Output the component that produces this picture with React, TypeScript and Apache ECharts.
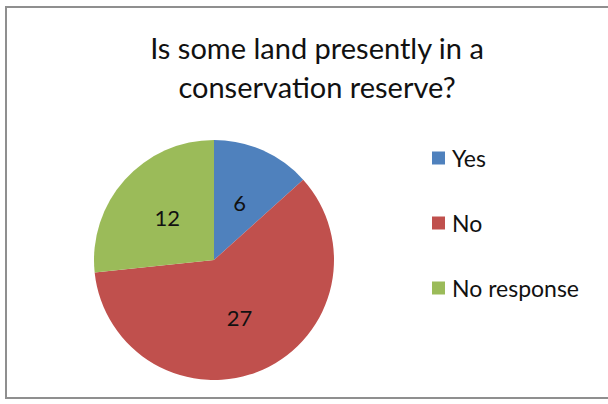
import React, { useEffect, useRef } from "react";
import * as echarts from "echarts";

const titleText = "Is some land presently in a\nconservation reserve?";
const categories = ["Yes", "No", "No response"];
const values = [6, 27, 12];
const colors = ["#4F81BD", "#C0504D", "#9BBB59"];

export default function App() {
  const ref = useRef<HTMLDivElement>(null);
  useEffect(() => {
    const chart = echarts.init(ref.current!, null, { renderer: "svg" });
    chart.setOption({
      animation: false,
      backgroundColor: "#ffffff",
      title: {
        text: titleText,
        left: 312,
        top: 23,
        textAlign: "center",
        textStyle: {
          fontFamily: "Lato",
          fontSize: 29,
          fontWeight: "normal",
          color: "#111",
          lineHeight: 39,
        },
      },
      legend: {
        orient: "vertical",
        left: 427,
        top: 141,
        itemGap: 41,
        itemWidth: 13,
        itemHeight: 13,
        icon: "rect",
        textStyle: { fontFamily: "Lato", fontSize: 23, lineHeight: 24, color: "#111", padding: [0, 0, 0, 2] },
        data: categories,
      },
      graphic: [
        {
          type: "rect",
          shape: { x: 6, y: 7, width: 620, height: 391 },
          style: { fill: "none", stroke: "#8f8f8f", lineWidth: 2 },
          silent: true,
        },
      ],
      series: [
        {
          type: "pie",
          center: [214, 260],
          radius: 120,
          startAngle: 90,
          clockwise: true,
          data: categories.map((c, i) => ({ name: c, value: values[i], itemStyle: { color: colors[i] } })),
          label: {
            show: true,
            position: "inner",
            formatter: "{c}",
            fontFamily: "Lato",
            fontSize: 22,
            color: "#111",
          },
          labelLine: { show: false },
          emphasis: { disabled: true },
        },
      ],
    });
    return () => chart.dispose();
  }, []);
  return <div ref={ref} style={{ position: "fixed", left: 0, top: 0, width: 608, height: 404 }} />;
}
